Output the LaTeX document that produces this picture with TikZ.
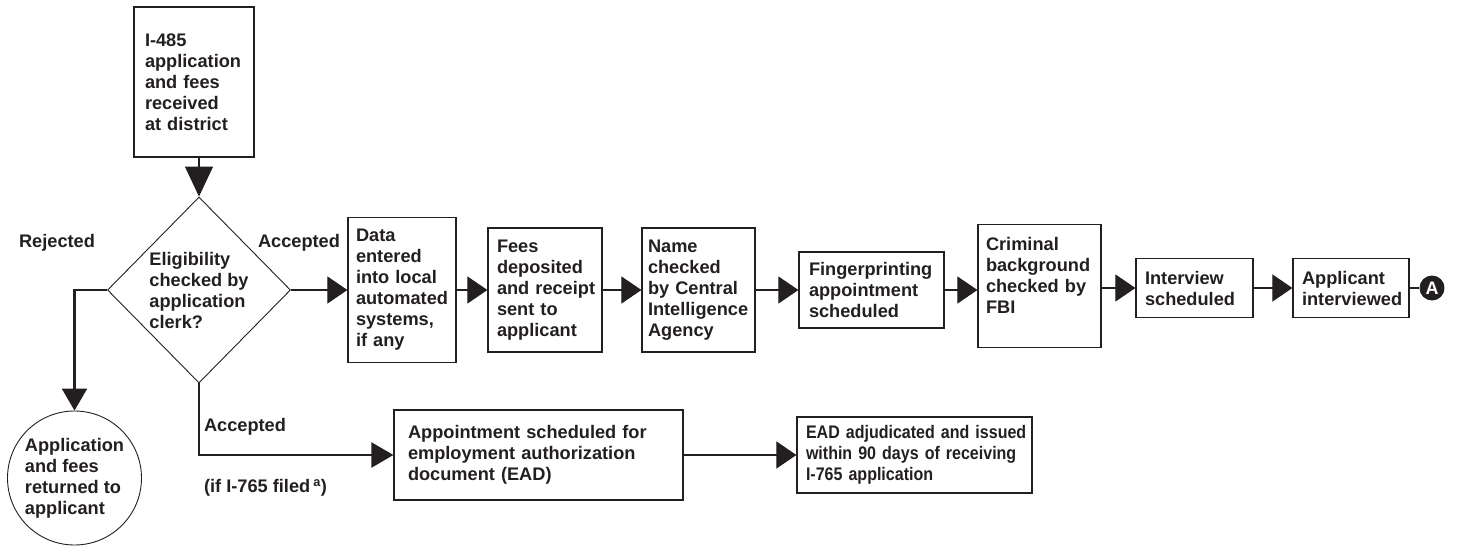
\documentclass[tikz,border=0pt]{standalone}
\usepackage{fontspec}
\setmainfont{Liberation Sans}
\newfontfamily\narrowbold[FakeStretch=0.88]{Liberation Sans Bold}
\usepackage{xcolor}
\usepackage{tikz}
\usetikzlibrary{arrows.meta,shapes.geometric}
\definecolor{ink}{HTML}{231F20}
\definecolor{paper}{HTML}{FFFFFF}
\newcommand{\lblfont}{\fontsize{18.2}{21}\selectfont\bfseries\hyphenpenalty=10000 }
\newcommand{\eadfont}{\fontsize{18.2}{21}\selectfont\narrowbold\hyphenpenalty=10000 }
\tikzset{
  box/.style={draw=ink, line width=1.2pt, align=left, inner xsep=9pt, inner ysep=0pt, text=ink, font=\lblfont},
  decision/.style={diamond, draw=ink, line width=0.9pt, align=left, inner sep=0pt, text=ink, font=\lblfont},
  endcircle/.style={circle, draw=ink, line width=0.9pt, align=left, inner sep=0pt, text=ink, font=\lblfont},
  lbl/.style={text=ink, font=\lblfont, inner sep=0pt},
  line/.style={draw=ink, line width=1.1pt, -{Triangle[length=20pt, width=27pt]}},
  thickline/.style={draw=ink, line width=2.4pt, -{Triangle[length=22pt, width=25pt]}},
  plainline/.style={draw=ink, line width=1.1pt}
}

\begin{document}
\begin{tikzpicture}[x=1pt, y=-1pt]
  \useasboundingbox (0,0) rectangle (1457,546);

  % intake and decision
  \node[box, text width=98pt, inner xsep=11pt, minimum height=150pt] (intake) at (194,82) {I-485\\application\\and~fees\\received\\at~district};
  \node[decision, minimum width=183pt, minimum height=186pt] (check) at (199,290) {Eligibility\\checked~by\\application\\clerk?};
  \node[endcircle, minimum size=134pt] (returned) at (74.5,478) {Application\\and~fees\\returned~to\\applicant};

  % main row
  \node[box, text width=92pt, inner xsep=8pt, minimum height=145pt] (data) at (402,290) {Data\\entered\\into~local\\automated\\systems,\\if~any};
  \node[box, text width=96pt, minimum height=124pt] (fees) at (545,290) {Fees\\deposited\\and~receipt\\sent~to\\applicant};
  \node[box, text width=101pt, inner xsep=6pt, minimum height=124pt] (name) at (698.5,290) {Name\\checked\\by~Central\\Intelligence\\Agency};
  \node[box, text width=125pt, inner xsep=10pt, minimum height=76pt] (finger) at (871.5,290) {Fingerprinting\\appointment\\scheduled};
  \node[box, text width=107pt, inner xsep=8pt, minimum height=123pt] (fbi) at (1039.5,286) {Criminal\\background\\checked~by\\FBI\\[0pt]\mbox{}};
  \node[box, text width=99pt, minimum height=59pt] (sched) at (1194.5,288) {Interview\\scheduled};
  \node[box, text width=98pt, minimum height=59pt] (interv) at (1351,288) {Applicant\\interviewed};
  \node[circle, fill=ink, minimum size=25pt, inner sep=0pt, text=paper, font=\fontsize{18}{18}\selectfont\bfseries] (conn) at (1432,288) {A};

  % EAD row
  \node[box, text width=261pt, inner xsep=14pt, minimum height=90pt] (appt) at (538.5,455) {Appointment~scheduled~for\\employment~authorization\\document~(EAD)};
  \node[box, text width=217pt, minimum height=76pt, font=\eadfont] (ead) at (914.5,455) {EAD~adjudicated~and~issued\\within~90~days~of~receiving\\I-765~application};

  % labels
  \node[lbl] (rej) at (57,243) {Rejected};
  \node[lbl] (acc) at (299,243) {Accepted};
  \node[lbl] (acc2) at (245,427) {Accepted};
  \node[lbl] (cond) at (265.5,488) {(if I-765 filed\,\textsuperscript{a})};

  % connectors
  \draw[line, -{Triangle[length=30pt, width=28pt]}] (intake.south -| check.north) -- (check.north);
  \draw[line] (check.east) -- (data.west);
  \draw[line] (data) -- (fees);
  \draw[line] (fees) -- (name);
  \draw[line] (name) -- (finger);
  \draw[line] (finger.east) -- (finger.east -| fbi.west);
  \draw[line] (fbi.east |- sched.west) -- (sched.west);
  \draw[line] (sched) -- (interv);
  \draw[plainline] (interv) -- (conn);
  \draw[thickline] (check.west) -| (returned.north);
  \draw[thickline] (check.south) |- (appt.west);
  \draw[line] (appt) -- (ead);
\end{tikzpicture}
\end{document}
